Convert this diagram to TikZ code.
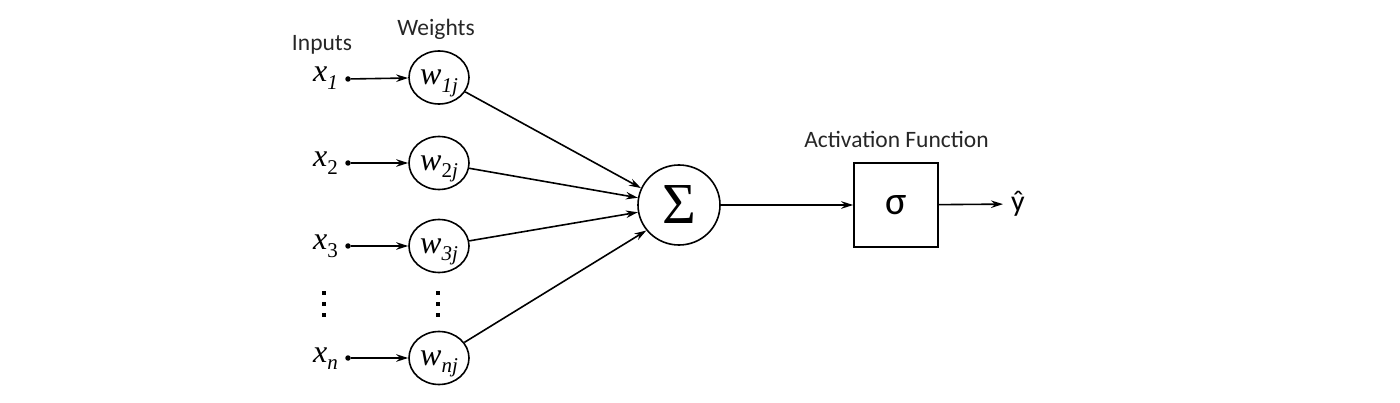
\documentclass[tikz,border=0pt]{standalone}
\usepackage{fontspec}
\setmainfont{Liberation Serif}
\newfontfamily\calibri{Carlito}
\usetikzlibrary{arrows.meta,shapes.geometric}
\newcommand{\varlab}[2]{{\fontsize{32}{34}\selectfont\textit{#1}\raisebox{-0.5ex}{\fontsize{21}{23}\selectfont #2}}}
\begin{document}
\begin{tikzpicture}[x=1pt,y=1pt,
  wnode/.style={ellipse,draw,line width=1.6pt,minimum width=60pt,minimum height=53pt,inner sep=0pt,text depth=0pt,text height=15pt},
  arr/.style={-{Stealth[length=12pt,width=7.5pt]},line width=1.6pt},
  lbl/.style={font=\calibri\fontsize{23.5}{26}\selectfont,inner sep=0pt,text=black!85},
  dotnode/.style={circle,fill,inner sep=0pt,minimum size=5.5pt},
  vd/.style={fill,inner sep=0pt,minimum size=4pt},
  xlab/.style={anchor=base east,inner sep=0pt}
]
\useasboundingbox (0,0) rectangle (1400,402);

% headings
\node[lbl,anchor=base] (inputs) at (322,351) {Inputs};
\node[lbl,anchor=base] (weights) at (436,366) {Weights};
\node[lbl,anchor=base] (act) at (896.5,254) {Activation Function};

% input labels
\node[xlab] (x1) at (338,320) {\varlab{x}{\textit{1}}};
\node[xlab] (x2) at (338,235) {\varlab{x}{2}};
\node[xlab] (x3) at (338,152) {\varlab{x}{3}};
\node[xlab] (xn) at (338,40) {\varlab{x}{\textit{n}}};

% input dots
\node[dotnode] (d1) at (348,323) {};
\node[dotnode] (d2) at (348,239) {};
\node[dotnode] (d3) at (348,156) {};
\node[dotnode] (dn) at (348,44) {};

% weight nodes
\node[wnode] (w1) at (439,324.5) {\varlab{w}{\textit{1j}}};
\node[wnode] (w2) at (439,239) {\varlab{w}{2\textit{j}}};
\node[wnode] (w3) at (439,156) {\varlab{w}{\textit{3j}}};
\node[wnode] (wn) at (439,44) {\varlab{w}{\textit{nj}}};

% vertical dots
\node[vd] (va1) at (324,109) {};
\node[vd] (va2) at (324,98) {};
\node[vd] (va3) at (324,87) {};
\node[vd] (vb1) at (438,109) {};
\node[vd] (vb2) at (438,98) {};
\node[vd] (vb3) at (438,87) {};

% sum and activation
\node[ellipse,draw,line width=1.6pt,minimum width=82pt,minimum height=80pt,inner sep=0pt,font=\fontsize{58}{58}\selectfont] (sum) at (679,197) {Σ};
\node[draw,line width=1.6pt,minimum width=84pt,minimum height=84pt,inner sep=0pt,font=\calibri\fontsize{40}{40}\selectfont] (sig) at (896,197) {σ};
\node[inner sep=0pt,inner xsep=8pt,font=\calibri\fontsize{30}{30}\selectfont] (yhat) at (1018,198) {ŷ};

% connectors
\draw[arr] (d1) -- (w1);
\draw[arr] (d2) -- (w2);
\draw[arr] (d3) -- (w3);
\draw[arr] (dn) -- (wn);
\draw[arr] (w1) -- (sum.156);
\draw[arr] (w2) -- (sum.170);
\draw[arr] (w3) -- (sum.190);
\draw[arr] (wn) -- (sum.218);
\draw[arr] (sum) -- (sig);
\draw[arr] (sig) -- (yhat);
\end{tikzpicture}
\end{document}
